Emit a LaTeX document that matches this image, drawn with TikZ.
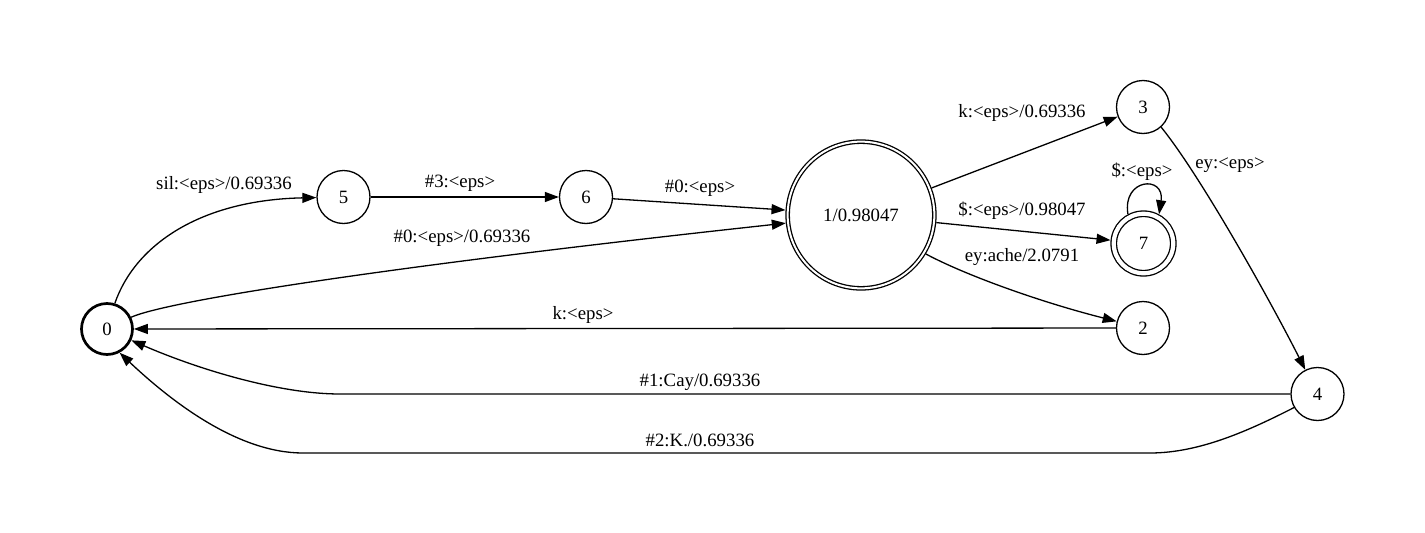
\documentclass[tikz,border=0pt]{standalone}
\usepackage{fontspec}
\setmainfont{Liberation Serif}
\usetikzlibrary{arrows.meta}
\begin{document}
\begin{tikzpicture}[x=1pt,y=-1pt,
  every node/.style={font=\fontsize{18.8}{22}\selectfont},
  state/.style={circle,draw,line width=1.3pt,minimum size=53pt,inner sep=0pt},
  startstate/.style={state,line width=2.7pt,minimum size=51pt},
  finalstate/.style={state,double,double distance=#1},
  lbl/.style={inner sep=0pt},
  edge/.style={line width=1.3pt,-{Triangle[length=14pt,width=10pt]}},
]
\useasboundingbox (0,0) rectangle (1425,533);
% states
\node[startstate] (n0) at (107,329) {0};
\node[state] (n5) at (343.5,197) {5};
\node[state] (n6) at (586,197) {6};
\node[finalstate=2pt,minimum size=146.7pt,outer sep=2.3pt] (n1) at (861,215) {1/0.98047};
\node[state] (n3) at (1143,107) {3};
\node[finalstate=4.2pt,minimum size=59.5pt,outer sep=3.4pt] (n7) at (1143.5,243.5) {7};
\node[state] (n2) at (1143,328) {2};
\node[state] (n4) at (1317.5,394) {4};
% edges
\draw[edge] (n0.73) .. controls (135,245) and (200,200) .. (n5);
\draw[edge] (n5) -- (n6);
\draw[edge] (n6) -- (n1);
\draw[edge] (n0.26) .. controls (170,300) and (400,265) .. (n1);
\draw[edge] (n1) -- (n3);
\draw[edge] (n1) -- (n7);
\draw[edge] (n1.-31) .. controls (965,275) and (1040,302) .. (n2);
\draw[edge] (n7.118) .. controls (1122,178) and (1165,175) .. (n7.62);
\draw[edge] (n3.-48) .. controls (1200,175) and (1270,300) .. (n4);
\draw[edge] (n2) -- (n0);
\draw[edge] (n4.180) -- (340,394) .. controls (280,394) and (200,370) .. (n0.-25);
\draw[edge] (n4.-150) .. controls (1250,430) and (1200,453) .. (1150,453) -- (303,453) .. controls (240,453) and (175,405) .. (n0.-62);
% labels
\node[lbl] (l05) at (224,185) {sil:<eps>/0.69336};
\node[lbl] (l56) at (460,183) {\#3:<eps>};
\node[lbl] (l61) at (700,188) {\#0:<eps>};
\node[lbl] (l01) at (462,238) {\#0:<eps>/0.69336};
\node[lbl] (l13) at (1022,113) {k:<eps>/0.69336};
\node[lbl] (l17) at (1022,211) {\$:<eps>/0.98047};
\node[lbl] (l12) at (1022,257) {ey:ache/2.0791};
\node[lbl] (l77) at (1142,172) {\$:<eps>};
\node[lbl] (l34) at (1230,165) {ey:<eps>};
\node[lbl] (l20) at (583,315) {k:<eps>};
\node[lbl] (l40a) at (700,382) {\#1:Cay/0.69336};
\node[lbl] (l40b) at (700,440) {\#2:K./0.69336};
\end{tikzpicture}
\end{document}
